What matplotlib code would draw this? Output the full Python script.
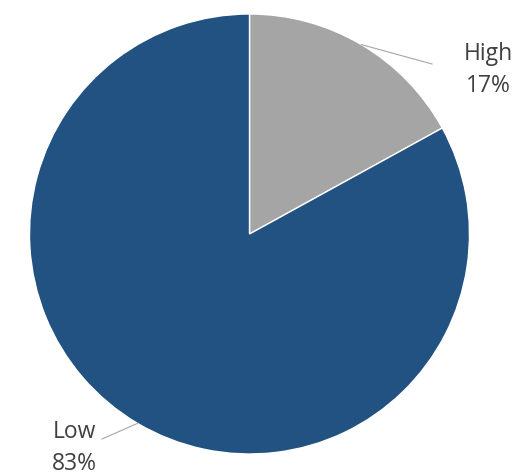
import numpy as np
import matplotlib.pyplot as plt

# Data
labels = ['High', 'Low']
shares = [17, 83]
colors = ['#A5A5A5', '#215282']

W, H = 517, 477
fig = plt.figure(figsize=(W / 100, H / 100), dpi=100)
ax = fig.add_axes([0, 0, 1, 1])

cx, cy, r = 249.5, H - 235, 220
wedges, _ = ax.pie(shares, colors=colors, startangle=90, counterclock=False,
                   center=(cx, cy), radius=r, frame=True,
                   wedgeprops=dict(edgecolor='white', linewidth=1))
ax.set_xlim(0, W)
ax.set_ylim(0, H)
ax.set_aspect('equal')
ax.axis('off')

# label text centre and leader line end (pixel coords from top)
text_pos = {'High': (488, 70, (432, 65)), 'Low': (74, 448, (102, 440))}
for w, lab, val in zip(wedges, labels, shares):
    ang = np.deg2rad((w.theta1 + w.theta2) / 2)
    ex = cx + r * np.cos(ang)
    ey = cy + r * np.sin(ang)
    tx, ty, (lx, ly) = text_pos[lab]
    ax.plot([ex, lx], [ey, H - ly], color='#A6A6A6', lw=0.8)
    ax.text(tx, H - ty, f'{lab}\n{val}%', ha='center', va='center',
            fontsize=16.5, color='#404040', family='Open Sans', linespacing=1.45)

fig.savefig('out.png', dpi=100)
